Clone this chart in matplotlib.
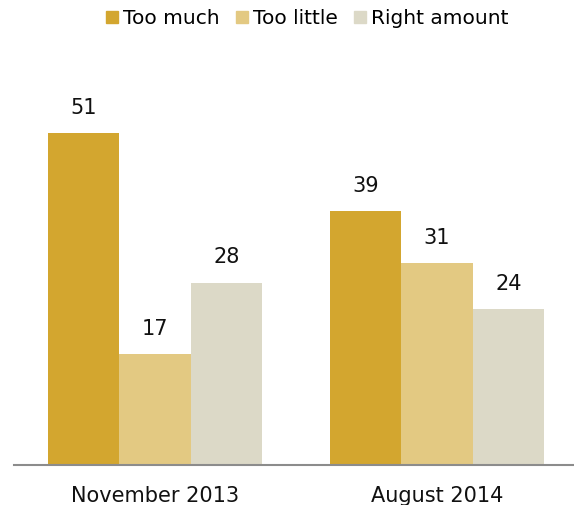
import numpy as np
import matplotlib.pyplot as plt
from matplotlib.patches import Patch

# data
periods = ["November 2013", "August 2014"]
series_names = ["Too much", "Too little", "Right amount"]
too_much = [51, 39]
too_little = [17, 31]
right_amount = [28, 24]
colors = ["#D3A62F", "#E3C982", "#DCD9C7"]

plt.rcParams['font.family'] = ['DejaVu Sans']

fig = plt.figure(figsize=(5.74, 5.05), dpi=100)
ax = fig.add_axes([14 / 574, 1 - 465 / 505, 560 / 574, 425 / 505])

x = np.arange(len(periods))
w = 0.2535
values = [too_much, too_little, right_amount]
for i, (vals, c) in enumerate(zip(values, colors)):
    bars = ax.bar(x + (i - 1) * w, vals, w, color=c, label=series_names[i])
    for b, v in zip(bars, vals):
        ax.annotate(str(v), (b.get_x() + b.get_width() / 2, v),
                    xytext=(0, 11), textcoords="offset points",
                    ha="center", va="bottom", fontsize=15, color="#111111")

ax.set_xlim(-0.5, 1.486)
ax.set_ylim(0, 65.3)
for s in ["top", "right", "left"]:
    ax.spines[s].set_visible(False)
ax.spines["bottom"].set_color("#8C8C8C")
ax.spines["bottom"].set_linewidth(1.5)
ax.set_yticks([])
ax.set_xticks(x)
ax.set_xticklabels(periods, fontsize=15, color="#111111")
ax.tick_params(axis="x", length=0, pad=15)

handles = [Patch(color=c) for c in colors]
fig.legend(handles, series_names, loc="upper center", bbox_to_anchor=(0.535, 1.018),
           ncol=3, frameon=False, fontsize=14.5, handlelength=0.6, handleheight=0.6,
           handletextpad=0.25, columnspacing=0.8)

fig.savefig("out.png", dpi=100)
